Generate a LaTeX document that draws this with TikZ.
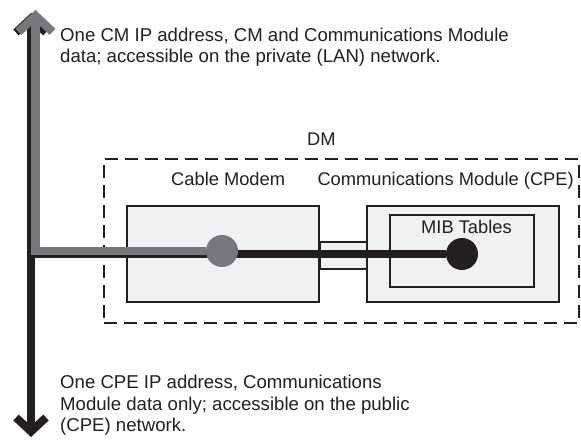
\documentclass[tikz,border=0pt]{standalone}
\usepackage{fontspec}
\setmainfont{Liberation Sans}
\usetikzlibrary{arrows.meta}
\definecolor{inkcol}{RGB}{35,31,32}
\definecolor{greycol}{RGB}{119,120,123}
\definecolor{boxcol}{RGB}{240,241,242}
\tikzset{
  txt/.style={font=\fontsize{18.3}{21.5}\selectfont,text=inkcol,inner sep=0pt,anchor=base west},
  note/.style={txt,font=\fontsize{18.6}{21.5}\selectfont,align=left},
  dmframe/.style={draw=inkcol,line width=2.6pt,dash pattern=on 13pt off 7pt,rectangle,inner sep=0pt},
  unit/.style={draw=inkcol,line width=2.6pt,fill=boxcol,rectangle,inner sep=0pt},
  link/.style={draw=inkcol,line width=1.3pt,fill=boxcol,rectangle,inner sep=0pt},
  dot/.style={circle,inner sep=0pt,minimum size=32pt},
  publine/.style={draw=inkcol,line width=8pt},
  privline/.style={draw=greycol,line width=8.5pt},
  barb/.tip={Straight Barb[length=14pt,width=30pt]},
  bigbarb/.tip={Straight Barb[length=16pt,width=34pt]},
}

\begin{document}
\begin{tikzpicture}[x=1pt,y=-1pt]
  \useasboundingbox (0,0) rectangle (581,440);
  \node[dmframe,minimum width=475pt,minimum height=164pt] (dm) at (341.5,241) {};
  \node[link,minimum width=47pt,minimum height=27pt] (bridge) at (343.5,255.5) {};
  \node[unit,minimum width=192pt,minimum height=96pt] (modem) at (223,254) {};
  \node[unit,minimum width=192pt,minimum height=96pt] (module) at (463,254) {};
  \node[unit,minimum width=144pt,minimum height=72pt] (mib) at (462,251) {};
  \node[txt] (dmlab) at (307,145) {DM};
  \node[txt] (modemlab) at (171,185) {Cable Modem};
  \node[txt,anchor=base east] (modulelab) at (574,185) {Communications Module (CPE)};
  \node[txt] (miblab) at (421,233) {MIB Tables};
  \node[note] (lannote) at (60,62.5) {One CM IP address, CM and Communications Module\\data; accessible on the private (LAN) network.};
  \node[note] (cpenote) at (60,431.5) {One CPE IP address, Communications\\Module data only; accessible on the public\\(CPE) network.};
  \coordinate (pubtop) at (31,13);
  \coordinate (pubend) at (31,437);
  \coordinate (tee) at (31,254);
  \coordinate (lanend) at (35.5,10);
  \node[dot,fill=inkcol] (mibdot) at (462,254) {};
  \draw[publine,barb-barb] (pubtop) -- (pubend);
  \draw[publine] (tee) -- (mibdot);
  \node[dot,fill=greycol] (cmdot) at (222,251) {};
  \draw[privline,-bigbarb] (cmdot) -| (lanend);
\end{tikzpicture}
\end{document}
